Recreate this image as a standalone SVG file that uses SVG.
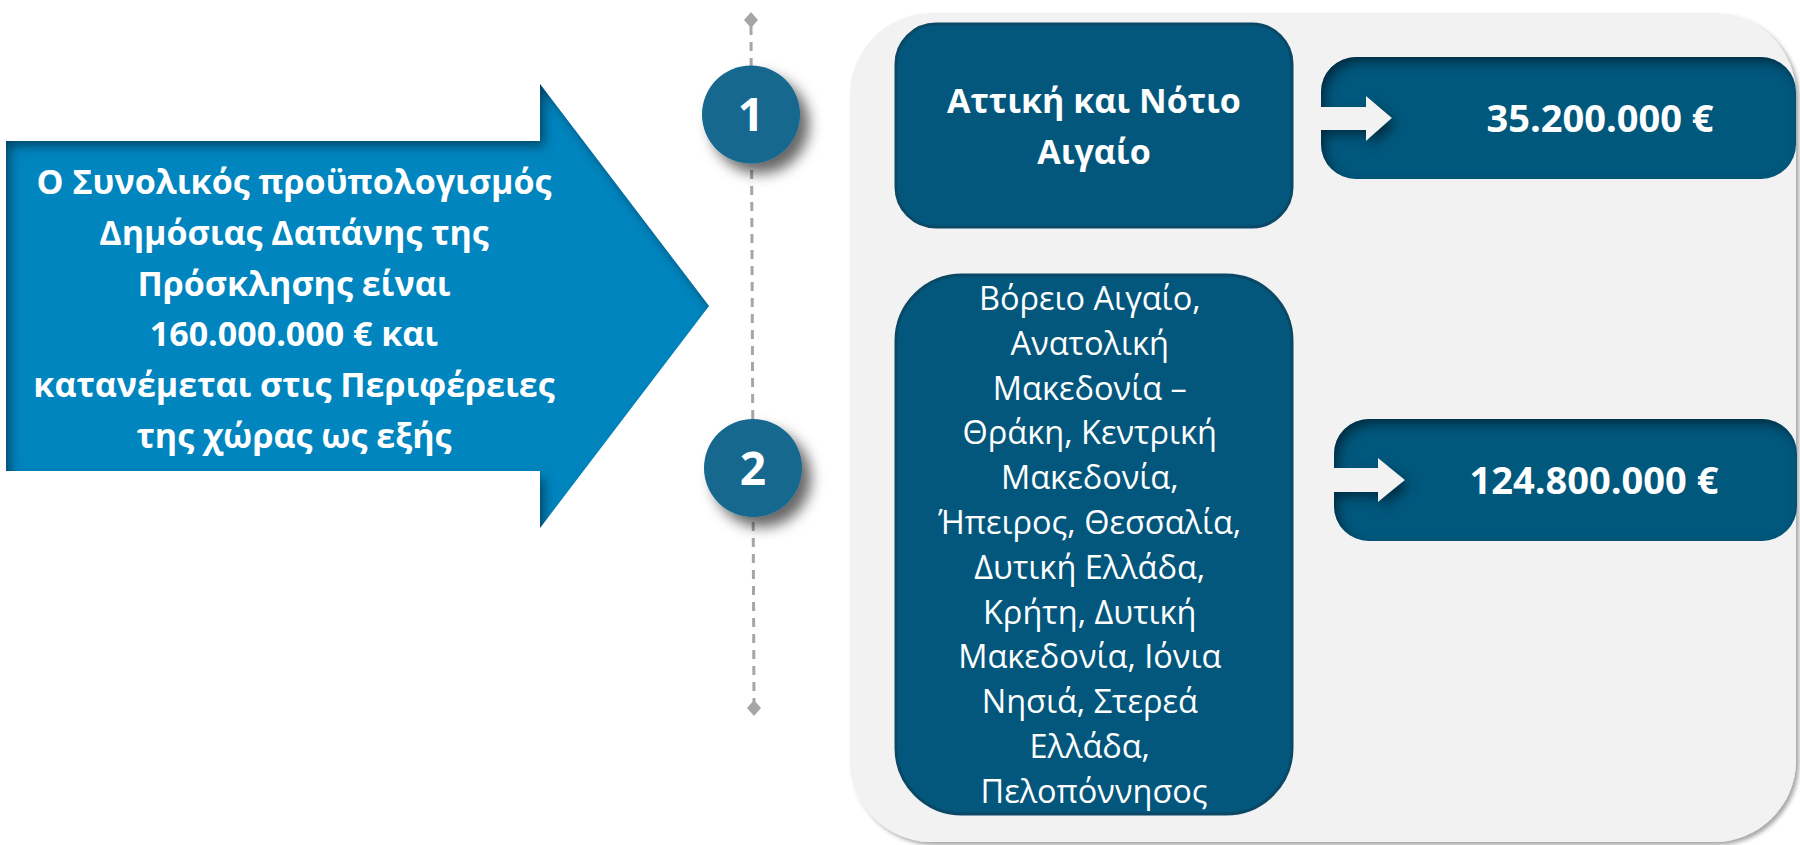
<svg xmlns="http://www.w3.org/2000/svg" width="1800" height="845" viewBox="0 0 1800 845">
<style>
.bold{font-family:"Open Sans","Noto Sans","DejaVu Sans",sans-serif;font-weight:700;fill:#fff;text-anchor:middle}
.reg{font-family:"Open Sans","Noto Sans","DejaVu Sans",sans-serif;font-weight:400;fill:#fff;text-anchor:middle}
.box{fill:#03577C;stroke:#0B4866;stroke-width:3}
.val{fill:#03587D}
.circ{fill:#13688F}
.dash{stroke:#A6A6A6;stroke-width:3;stroke-dasharray:9 7;fill:none}
.dia{fill:#A6A6A6}
</style>
<defs>
<filter id="inset" x="-10%" y="-10%" width="120%" height="120%">
<feGaussianBlur in="SourceAlpha" stdDeviation="6"/>
<feOffset dx="5" dy="6" result="b"/>
<feComposite in="SourceAlpha" in2="b" operator="out" result="inv"/>
<feFlood flood-color="#000" flood-opacity="0.75"/>
<feComposite in2="inv" operator="in" result="sh"/>
<feMerge><feMergeNode in="SourceGraphic"/><feMergeNode in="sh"/></feMerge>
</filter>
<filter id="drop" x="-30%" y="-30%" width="170%" height="170%">
<feGaussianBlur in="SourceAlpha" stdDeviation="7"/>
<feOffset dx="9" dy="10" result="o"/>
<feFlood flood-color="#000" flood-opacity="0.6"/>
<feComposite in2="o" operator="in"/>
<feMerge><feMergeNode/><feMergeNode in="SourceGraphic"/></feMerge>
</filter>
<filter id="panelsh" x="-5%" y="-5%" width="110%" height="110%">
<feGaussianBlur in="SourceAlpha" stdDeviation="2"/>
<feOffset dx="3" dy="3" result="o"/>
<feFlood flood-color="#000" flood-opacity="0.35"/>
<feComposite in2="o" operator="in"/>
<feMerge><feMergeNode/><feMergeNode in="SourceGraphic"/></feMerge>
</filter>
</defs>
<rect width="1800" height="845" fill="#fff"/>

<g id="panel">
<rect x="850" y="13" width="946" height="829" rx="82" ry="82" fill="#F2F2F2" filter="url(#panelsh)"/>
</g>

<g id="connectors">
<line class="dash" x1="751" y1="26" x2="754" y2="702"/>
<path class="dia" d="M751 12 L758 20 L751 28 L744 20 Z"/>
<path class="dia" d="M754 700 L761 708 L754 716 L747 708 Z"/>
</g>

<g id="intro">
<path d="M6 141 H540 V84 L709 306 L540 528 V471 H6 Z" fill="#0085BF" filter="url(#inset)"/>
<text class="bold" font-size="34" x="294" y="194">Ο Συνολικός προϋπολογισμός</text>
<text class="bold" font-size="34" x="294" y="245">Δημόσιας Δαπάνης της</text>
<text class="bold" font-size="34" x="294" y="296">Πρόσκλησης είναι</text>
<text class="bold" font-size="34" x="294" y="346">160.000.000 € και</text>
<text class="bold" font-size="34" x="294" y="397">κατανέμεται στις Περιφέρειες</text>
<text class="bold" font-size="34" x="294" y="448">της χώρας ως εξής</text>
</g>

<g id="step1">
<circle class="circ" cx="751" cy="114.5" r="49" filter="url(#drop)"/>
<text class="bold" font-size="46" x="751" y="131">1</text>
</g>

<g id="step2">
<circle class="circ" cx="753" cy="468" r="49" filter="url(#drop)"/>
<text class="bold" font-size="46" x="753" y="484.5">2</text>
</g>

<g id="region1">
<rect class="box" x="896" y="24" width="396" height="203" rx="40" ry="40"/>
<text class="bold" font-size="34" x="1094" y="113">Αττική και Νότιο</text>
<text class="bold" font-size="34" x="1094" y="164">Αιγαίο</text>
</g>

<g id="value1">
<path class="val" filter="url(#inset)" d="M1356 57 H1761 A35 35 0 0 1 1796 92 V144 A35 35 0 0 1 1761 179 H1356 A35 35 0 0 1 1321 144 V130 H1366 V141 L1392 118 L1366 96 V107 H1321 V92 A35 35 0 0 1 1356 57 Z"/>
<text class="bold" font-size="38" x="1600" y="132">35.200.000 €</text>
</g>

<g id="region2">
<rect class="box" x="896" y="275" width="396" height="539" rx="66" ry="66"/>
<text class="reg" font-size="32.5">
<tspan x="1094" y="310">Βόρειο Αιγαίο,</tspan>
<tspan x="1094" y="354.8">Ανατολική</tspan>
<tspan x="1094" y="399.6">Μακεδονία –</tspan>
<tspan x="1094" y="444.4">Θράκη, Κεντρική</tspan>
<tspan x="1094" y="489.2">Μακεδονία,</tspan>
<tspan x="1094" y="534">Ήπειρος, Θεσσαλία,</tspan>
<tspan x="1094" y="578.8">Δυτική Ελλάδα,</tspan>
<tspan x="1094" y="623.6">Κρήτη, Δυτική</tspan>
<tspan x="1094" y="668.4">Μακεδονία, Ιόνια</tspan>
<tspan x="1094" y="713.2">Νησιά, Στερεά</tspan>
<tspan x="1094" y="758">Ελλάδα,</tspan>
<tspan x="1094" y="802.8">Πελοπόννησος</tspan>
</text>
</g>

<g id="value2">
<path class="val" filter="url(#inset)" d="M1369 419 H1762 A35 35 0 0 1 1797 454 V506 A35 35 0 0 1 1762 541 H1369 A35 35 0 0 1 1334 506 V492 H1378 V502 L1405 480 L1378 458 V468 H1334 V454 A35 35 0 0 1 1369 419 Z"/>
<text class="bold" font-size="38" x="1594" y="494">124.800.000 €</text>
</g>
</svg>
